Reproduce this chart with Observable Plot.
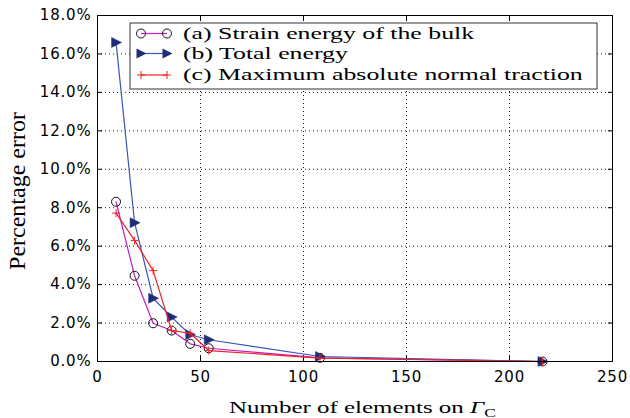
<!DOCTYPE html>
<html><head><meta charset="utf-8">
<script src="https://cdn.jsdelivr.net/npm/d3@7"></script>
<script src="https://cdn.jsdelivr.net/npm/@observablehq/plot@0.6"></script>
<style>body{margin:0;background:#fff}</style>
</head><body><div id="chart"></div>
<script>
const elements = [9, 18, 27, 36, 45, 54, 108, 216];
const strainBulk = [8.31, 4.46, 1.99, 1.61, 0.92, 0.69, 0.19, 0.0];
const totalEnergy = [16.6, 7.22, 3.29, 2.31, 1.39, 1.13, 0.26, 0.0];
const maxTraction = [7.72, 6.30, 4.73, 1.61, 1.47, 0.57, 0.18, 0.0];
const seriesNames = ["(a) Strain energy of the bulk", "(b) Total energy", "(c) Maximum absolute normal traction"];
const seriesColors = ["#c21cc2", "#3a56b8", "#ee2222"];
const xTicks = [0, 50, 100, 150, 200, 250];
const yTicks = [0, 2, 4, 6, 8, 10, 12, 14, 16, 18];
const xLabel = "Number of elements on ";
const yLabel = "Percentage error";

const rowsA = elements.map((x, i) => ({x, y: strainBulk[i]}));
const rowsB = elements.map((x, i) => ({x, y: totalEnergy[i]}));
const rowsC = elements.map((x, i) => ({x, y: maxTraction[i]}));

const triRight = {draw(ctx, size) { const r = Math.sqrt(size / Math.PI); ctx.moveTo(r * 1.1, 0); ctx.lineTo(-r * 0.9, -r); ctx.lineTo(-r * 0.9, r); ctx.closePath(); }};
const plusSym = {draw(ctx, size) { const r = Math.sqrt(size / Math.PI); ctx.moveTo(-r, 0); ctx.lineTo(r, 0); ctx.moveTo(0, -r); ctx.lineTo(0, r); }};

const fmtY = d => d.toFixed(1) + "%";
const none = () => "";

const plot = Plot.plot({
  width: 630, height: 418,
  marginLeft: 97, marginRight: 18, marginTop: 15, marginBottom: 57,
  style: {fontFamily: "DejaVu Sans", fontSize: "15px", color: "#000", background: "#fff", letterSpacing: "0.8px"},
  x: {domain: [0, 250]},
  y: {domain: [0, 18]},
  marks: [
    Plot.gridX(xTicks, {stroke: "#000", strokeOpacity: 0.9, strokeDasharray: "1,3"}),
    Plot.gridY(yTicks, {stroke: "#000", strokeOpacity: 0.9, strokeDasharray: "1,3"}),
    Plot.axisX({ticks: xTicks, tickSize: 0, tickPadding: 10, label: null}),
    Plot.axisY({ticks: yTicks, tickSize: 0, tickPadding: 6, tickFormat: fmtY, label: null}),
    Plot.axisX({ticks: xTicks, anchor: "bottom", tickSize: -5, tickFormat: none, label: null}),
    Plot.axisX({ticks: xTicks, anchor: "top", tickSize: -5, tickFormat: none, label: null}),
    Plot.axisY({ticks: yTicks, anchor: "left", tickSize: -5, tickFormat: none, label: null}),
    Plot.axisY({ticks: yTicks, anchor: "right", tickSize: -5, tickFormat: none, label: null}),
    Plot.line(rowsA, {x: "x", y: "y", stroke: seriesColors[0], strokeWidth: 1.2}),
    Plot.dot(rowsA, {x: "x", y: "y", r: 4.5, stroke: "#111", fill: "none", strokeWidth: 1}),
    Plot.line(rowsB, {x: "x", y: "y", stroke: seriesColors[1], strokeWidth: 1.2}),
    Plot.dot(rowsB, {x: "x", y: "y", r: 5, symbol: triRight, fill: "#1e2d78", stroke: "#1e2d78", strokeWidth: 0.5}),
    Plot.line(rowsC, {x: "x", y: "y", stroke: seriesColors[2], strokeWidth: 1.2}),
    Plot.dot(rowsC, {x: "x", y: "y", r: 4, symbol: plusSym, stroke: seriesColors[2], fill: "none", strokeWidth: 1}),
    Plot.frame({stroke: "#000", strokeWidth: 1})
  ]
});
document.getElementById("chart").appendChild(plot);

const svg = d3.select(plot);
const serif = "'Liberation Serif', serif";
const xs = plot.scale("x"), ys = plot.scale("y");
const cx = (xs.apply(0) + xs.apply(250)) / 2;
const cy = (ys.apply(0) + ys.apply(18)) / 2;

// horizontally stretched text (the reference glyphs are wide)
function serifText(parent, fontSize, anchor) {
  return parent.append("text").style("text-anchor", anchor).style("font-family", serif)
    .style("font-size", fontSize + "px").style("letter-spacing", "0px");
}

// x label
const gx = svg.append("g");
const xl = serifText(gx, 17, "middle");
xl.append("tspan").text(xLabel);
xl.append("tspan").style("font-style", "italic").text("Γ");
xl.append("tspan").style("font-size", "12px").attr("dy", 4).text("C");
const sxl = 267 / xl.node().getBBox().width;
gx.attr("transform", `translate(${cx + 8},413) scale(${sxl},1)`);

// y label
const gy = svg.append("g").attr("transform", `translate(25,${cy + 3}) rotate(-90)`);
serifText(gy, 24, "middle").text(yLabel);

// legend
const lg = svg.append("g");
lg.append("rect").attr("x", 130).attr("y", 23).attr("width", 467).attr("height", 66)
  .attr("fill", "#fff").attr("stroke", "#333").attr("stroke-width", 1);
const rowY = [33.5, 53.5, 75];
const baseY = [39, 59.3, 79.5];
let legendScale = null;
seriesNames.forEach((name, i) => {
  const y = rowY[i];
  lg.append("line").attr("x1", 141).attr("x2", 167).attr("y1", y).attr("y2", y)
    .attr("stroke", seriesColors[i]).attr("stroke-width", 1.2);
  [141, 167].forEach(x => {
    if (i === 0) lg.append("circle").attr("cx", x).attr("cy", y).attr("r", 4.5).attr("fill", "none").attr("stroke", "#111");
    else if (i === 1) lg.append("path").attr("d", d3.symbol(triRight, Math.PI * 25)()).attr("transform", `translate(${x},${y})`).attr("fill", "#1e2d78");
    else lg.append("path").attr("d", d3.symbol(plusSym, Math.PI * 16)()).attr("transform", `translate(${x},${y})`).attr("stroke", seriesColors[2]).attr("fill", "none");
  });
  const g = lg.append("g");
  const t = serifText(g, 17, "start").text(name);
  if (legendScale === null) legendScale = 292 / t.node().getBBox().width;
  g.attr("transform", `translate(183,${baseY[i]}) scale(${legendScale},1)`);
});
</script>
</body></html>
